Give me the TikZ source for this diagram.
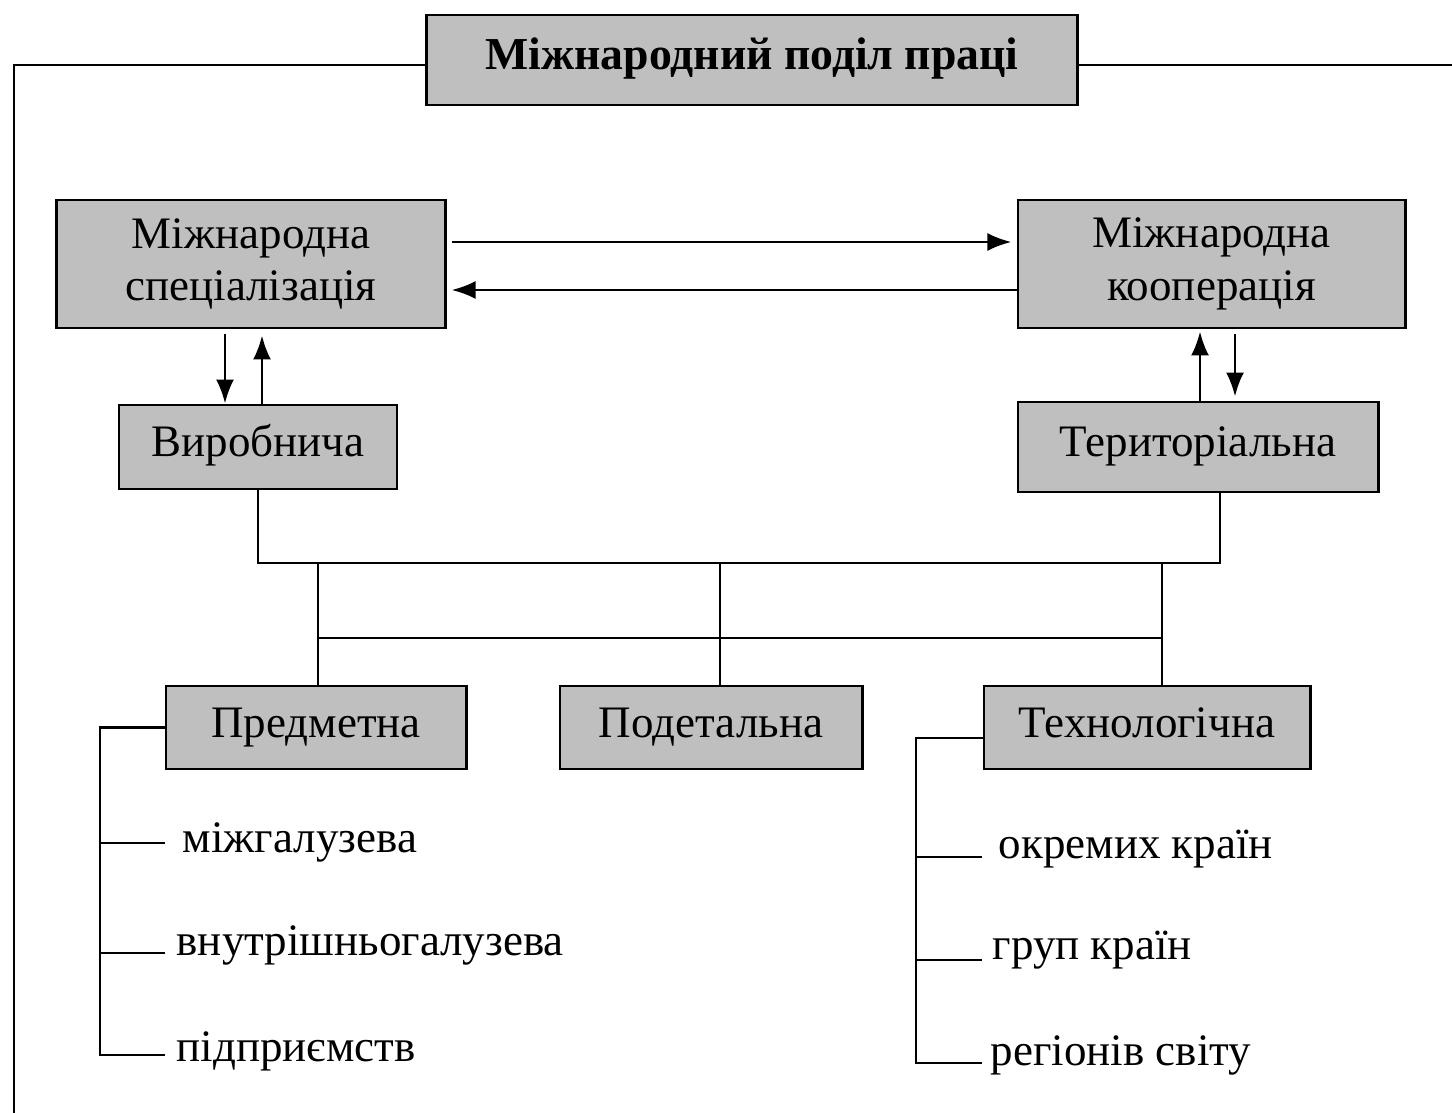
\documentclass[tikz,border=0pt]{standalone}
\usepackage{fontspec}
\setmainfont{Liberation Serif}
\usetikzlibrary{positioning,arrows.meta}

\begin{document}
\begin{tikzpicture}[x=0.01cm,y=-0.01cm]
		\tikzstyle{every node}=[font=\fontsize{12.8}{15}\selectfont]
		\tikzstyle{box}=[draw, line width=0.8pt, fill=black!25, align=center, inner sep=0pt, text height=1.6ex, text depth=0.4ex]
		\tikzstyle{item}=[anchor=west, inner sep=0pt, text height=1.6ex, text depth=0.4ex]
		\tikzstyle{arr}=[line width=0.8pt, -{Latex[length=2.4mm,width=1.8mm]}]
		\useasboundingbox (0,0) rectangle (1452,1113);

		% Title and frame
		\node[box, minimum width=6.5cm, minimum height=0.9cm, font=\fontsize{13}{15}\selectfont\bfseries] (title) at (752,60) {Міжнародний поділ праці};
		\coordinate (fl) at (14,1113);
		\coordinate (fr) at (1452,65);
		\draw[line width=0.8pt] (title.west |- 0,65) -| (fl);
		\draw[line width=0.8pt] (title.east |- 0,65) -- (fr);

		% Upper boxes
		\node[box, minimum width=3.88cm, minimum height=1.28cm, text height=, text depth=] (spec) at (251,264) {Міжнародна\\спеціалізація};
		\node[box, minimum width=3.87cm, minimum height=1.28cm, text height=, text depth=] (coop) at (1211.5,264) {Міжнародна\\кооперація};
		\node[box, minimum width=2.78cm, minimum height=0.84cm] (vyrob) at (258,447) {Виробнича};
		\node[box, minimum width=3.6cm, minimum height=0.9cm] (terr) at (1198,447) {Територіальна};

		% -----------------------------------------------------
		\draw[arr, shorten <=0.05cm, shorten >=0.05cm] (spec.east |- 0,242) -- (coop.west |- 0,242);
		\draw[arr, shorten >=0.05cm] (coop.west |- 0,290) -- (spec.east |- 0,290);

		\draw[arr, shorten <=0.05cm] (spec.south -| 225,0) -- (vyrob.north -| 225,0);
		\draw[arr, shorten >=0.06cm] (vyrob.north -| 262,0) -- (spec.south -| 262,0);

		\draw[arr, shorten >=0.02cm] (terr.north -| 1200,0) -- (coop.south -| 1200,0);
		\draw[arr, shorten <=0.05cm, shorten >=0.04cm] (coop.south -| 1235,0) -- (terr.north -| 1235,0);

		% Lower boxes
		\node[box, minimum width=3.0cm, minimum height=0.83cm] (predm) at (316,727.5) {Предметна};
		\node[box, minimum width=3.02cm, minimum height=0.83cm] (podet) at (711,727.5) {Подетальна};
		\node[box, minimum width=3.26cm, minimum height=0.83cm] (tekhn) at (1147,727.5) {Технологічна};

		% -----------------------------------------------------
		\coordinate (ja) at (318,638);
		\coordinate (jb) at (1162,638);
		\draw[line width=0.8pt] (vyrob.south) -- (vyrob.south |- 0,563) -| (terr.south -| 1220,0);
		\draw[line width=0.8pt] (predm.north -| 318,0) -- (318,563);
		\draw[line width=0.8pt] (podet.north -| 720,0) -- (720,563);
		\draw[line width=0.8pt] (tekhn.north -| 1162,0) -- (1162,563);
		\draw[line width=0.8pt] (ja) -- (jb);

		% Lists
		\node[item] (mizh) at (182,843) {міжгалузева};
		\node[item] (vnut) at (176,946) {внутрішньогалузева};
		\node[item] (pidp) at (176,1052) {підприємств};
		\draw[line width=0.8pt] (predm.west) -| (100,1055) -- (165,1055);
		\draw[line width=0.8pt] (100,843) -- (165,843);
		\draw[line width=0.8pt] (100,953) -- (165,953);

		\node[item] (okr) at (998,849) {окремих країн};
		\node[item] (grup) at (992,950) {груп країн};
		\node[item] (reg) at (990,1056) {регіонів світу};
		\draw[line width=0.8pt] (tekhn.west |- 0,738) -| (916,1063) -- (982,1063);
		\draw[line width=0.8pt] (916,857) -- (982,857);
		\draw[line width=0.8pt] (916,960) -- (982,960);

		\end{tikzpicture}
\end{document}
